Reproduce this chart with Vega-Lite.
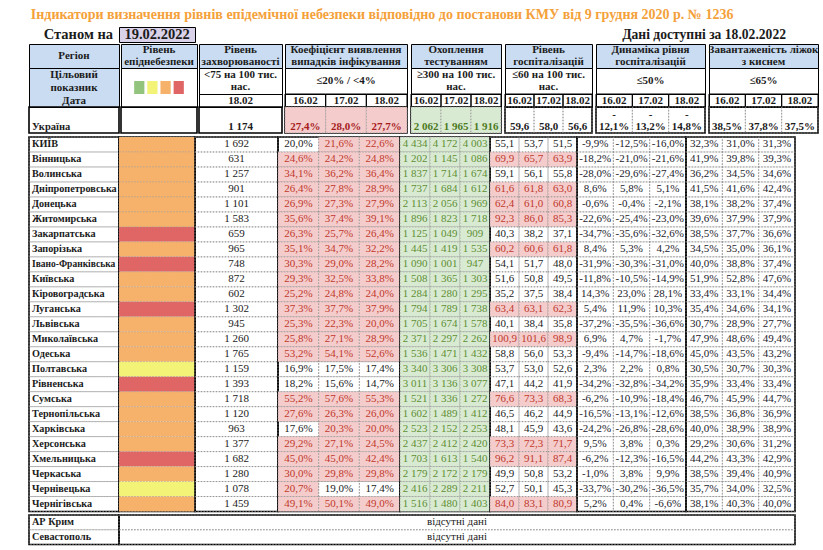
{
"$schema": "https://vega.github.io/schema/vega-lite/v6.json",
"padding": {"left": 27, "top": 8, "right": 10, "bottom": 5},
"background": "white",
"title": {"text": "Індикатори визначення рівнів епідемічної небезпеки відповідно до постанови КМУ від 9 грудня 2020 р. № 1236", "font": "Liberation Serif", "fontSize": 14, "fontWeight": "bold", "color": "#f4a13a", "anchor": "start", "dx": 3, "offset": 4},
"datasets": {
"rows": [
{"r":"Україна","lvl":null,"inc":1174,"k1":0.274,"k2":0.28,"k3":0.277,"t1":2062,"t2":1965,"t3":1916,"h1":59.6,"h2":58.0,"h3":56.6,"d1":-0.121,"d2":-0.132,"d3":-0.148,"b1":0.385,"b2":0.378,"b3":0.375},
{"r":"КИЇВ","lvl":"помаранчевий","inc":1692,"k1":0.2,"k2":0.216,"k3":0.226,"t1":4434,"t2":4172,"t3":4003,"h1":55.1,"h2":53.7,"h3":51.5,"d1":-0.099,"d2":-0.125,"d3":-0.16,"b1":0.323,"b2":0.31,"b3":0.313},
{"r":"Вінницька","lvl":"помаранчевий","inc":631,"k1":0.246,"k2":0.242,"k3":0.248,"t1":1202,"t2":1145,"t3":1086,"h1":69.9,"h2":65.7,"h3":63.9,"d1":-0.182,"d2":-0.21,"d3":-0.216,"b1":0.419,"b2":0.398,"b3":0.393},
{"r":"Волинська","lvl":"помаранчевий","inc":1257,"k1":0.341,"k2":0.362,"k3":0.364,"t1":1837,"t2":1714,"t3":1674,"h1":59.1,"h2":56.1,"h3":55.8,"d1":-0.28,"d2":-0.296,"d3":-0.274,"b1":0.362,"b2":0.345,"b3":0.346},
{"r":"Дніпропетровська","lvl":"помаранчевий","inc":901,"k1":0.264,"k2":0.278,"k3":0.289,"t1":1737,"t2":1684,"t3":1612,"h1":61.6,"h2":61.8,"h3":63.0,"d1":0.086,"d2":0.058,"d3":0.051,"b1":0.415,"b2":0.416,"b3":0.424},
{"r":"Донецька","lvl":"помаранчевий","inc":1101,"k1":0.269,"k2":0.273,"k3":0.279,"t1":2113,"t2":2056,"t3":1969,"h1":62.4,"h2":61.0,"h3":60.8,"d1":-0.006,"d2":-0.004,"d3":-0.021,"b1":0.381,"b2":0.382,"b3":0.374},
{"r":"Житомирська","lvl":"помаранчевий","inc":1583,"k1":0.356,"k2":0.374,"k3":0.391,"t1":1896,"t2":1823,"t3":1718,"h1":92.3,"h2":86.0,"h3":85.3,"d1":-0.226,"d2":-0.254,"d3":-0.23,"b1":0.396,"b2":0.379,"b3":0.379},
{"r":"Закарпатська","lvl":"червоний","inc":659,"k1":0.263,"k2":0.257,"k3":0.264,"t1":1125,"t2":1049,"t3":909,"h1":40.3,"h2":38.2,"h3":37.1,"d1":-0.347,"d2":-0.356,"d3":-0.326,"b1":0.385,"b2":0.377,"b3":0.366},
{"r":"Запорізька","lvl":"помаранчевий","inc":965,"k1":0.351,"k2":0.347,"k3":0.322,"t1":1445,"t2":1419,"t3":1535,"h1":60.2,"h2":60.6,"h3":61.8,"d1":0.084,"d2":0.053,"d3":0.042,"b1":0.345,"b2":0.35,"b3":0.361},
{"r":"Івано-Франківська","lvl":"червоний","inc":748,"k1":0.303,"k2":0.29,"k3":0.282,"t1":1090,"t2":1001,"t3":947,"h1":54.1,"h2":51.7,"h3":48.0,"d1":-0.319,"d2":-0.303,"d3":-0.31,"b1":0.4,"b2":0.388,"b3":0.374},
{"r":"Київська","lvl":"помаранчевий","inc":872,"k1":0.293,"k2":0.325,"k3":0.338,"t1":1508,"t2":1365,"t3":1303,"h1":51.6,"h2":50.8,"h3":49.5,"d1":-0.118,"d2":-0.105,"d3":-0.149,"b1":0.519,"b2":0.528,"b3":0.476},
{"r":"Кіровоградська","lvl":"помаранчевий","inc":602,"k1":0.252,"k2":0.248,"k3":0.24,"t1":1284,"t2":1280,"t3":1295,"h1":35.2,"h2":37.5,"h3":38.4,"d1":0.143,"d2":0.23,"d3":0.281,"b1":0.334,"b2":0.331,"b3":0.344},
{"r":"Луганська","lvl":"червоний","inc":1302,"k1":0.373,"k2":0.377,"k3":0.379,"t1":1794,"t2":1789,"t3":1738,"h1":63.4,"h2":63.1,"h3":62.3,"d1":0.054,"d2":0.119,"d3":0.103,"b1":0.354,"b2":0.346,"b3":0.341},
{"r":"Львівська","lvl":"помаранчевий","inc":945,"k1":0.253,"k2":0.223,"k3":0.2,"t1":1705,"t2":1674,"t3":1578,"h1":40.1,"h2":38.4,"h3":35.8,"d1":-0.372,"d2":-0.355,"d3":-0.366,"b1":0.307,"b2":0.289,"b3":0.277},
{"r":"Миколаївська","lvl":"помаранчевий","inc":1260,"k1":0.258,"k2":0.271,"k3":0.289,"t1":2371,"t2":2297,"t3":2262,"h1":100.9,"h2":101.6,"h3":98.9,"d1":0.069,"d2":0.047,"d3":-0.017,"b1":0.479,"b2":0.486,"b3":0.494},
{"r":"Одеська","lvl":"помаранчевий","inc":1765,"k1":0.532,"k2":0.541,"k3":0.526,"t1":1536,"t2":1471,"t3":1432,"h1":58.8,"h2":56.0,"h3":53.3,"d1":-0.094,"d2":-0.147,"d3":-0.186,"b1":0.45,"b2":0.435,"b3":0.432},
{"r":"Полтавська","lvl":"жовтий","inc":1159,"k1":0.169,"k2":0.175,"k3":0.174,"t1":3340,"t2":3306,"t3":3308,"h1":53.7,"h2":53.0,"h3":52.6,"d1":0.023,"d2":0.022,"d3":0.008,"b1":0.305,"b2":0.307,"b3":0.303},
{"r":"Рівненська","lvl":"червоний","inc":1393,"k1":0.182,"k2":0.156,"k3":0.147,"t1":3011,"t2":3136,"t3":3077,"h1":47.1,"h2":44.2,"h3":41.9,"d1":-0.342,"d2":-0.328,"d3":-0.342,"b1":0.359,"b2":0.334,"b3":0.334},
{"r":"Сумська","lvl":"помаранчевий","inc":1718,"k1":0.552,"k2":0.576,"k3":0.553,"t1":1521,"t2":1336,"t3":1272,"h1":76.6,"h2":73.3,"h3":68.3,"d1":-0.062,"d2":-0.109,"d3":-0.184,"b1":0.467,"b2":0.459,"b3":0.447},
{"r":"Тернопільська","lvl":"помаранчевий","inc":1120,"k1":0.276,"k2":0.263,"k3":0.26,"t1":1602,"t2":1489,"t3":1412,"h1":46.5,"h2":46.2,"h3":44.9,"d1":-0.165,"d2":-0.131,"d3":-0.126,"b1":0.385,"b2":0.368,"b3":0.369},
{"r":"Харківська","lvl":"помаранчевий","inc":963,"k1":0.176,"k2":0.203,"k3":0.2,"t1":2523,"t2":2152,"t3":2253,"h1":48.1,"h2":45.9,"h3":43.6,"d1":-0.242,"d2":-0.268,"d3":-0.286,"b1":0.4,"b2":0.389,"b3":0.389},
{"r":"Херсонська","lvl":"помаранчевий","inc":1377,"k1":0.292,"k2":0.271,"k3":0.245,"t1":2437,"t2":2412,"t3":2420,"h1":73.3,"h2":72.3,"h3":71.7,"d1":0.095,"d2":0.038,"d3":0.003,"b1":0.292,"b2":0.306,"b3":0.312},
{"r":"Хмельницька","lvl":"червоний","inc":1682,"k1":0.45,"k2":0.45,"k3":0.424,"t1":1703,"t2":1613,"t3":1540,"h1":96.2,"h2":91.1,"h3":87.4,"d1":-0.062,"d2":-0.123,"d3":-0.165,"b1":0.442,"b2":0.433,"b3":0.429},
{"r":"Черкаська","lvl":"помаранчевий","inc":1280,"k1":0.3,"k2":0.298,"k3":0.298,"t1":2179,"t2":2172,"t3":2179,"h1":49.9,"h2":50.8,"h3":53.2,"d1":-0.01,"d2":0.038,"d3":0.099,"b1":0.385,"b2":0.394,"b3":0.409},
{"r":"Чернівецька","lvl":"жовтий","inc":1078,"k1":0.207,"k2":0.19,"k3":0.174,"t1":2416,"t2":2289,"t3":2211,"h1":52.7,"h2":50.1,"h3":45.3,"d1":-0.337,"d2":-0.302,"d3":-0.365,"b1":0.357,"b2":0.34,"b3":0.325},
{"r":"Чернігівська","lvl":"помаранчевий","inc":1459,"k1":0.491,"k2":0.501,"k3":0.49,"t1":1516,"t2":1480,"t3":1403,"h1":84.0,"h2":83.1,"h3":80.9,"d1":0.052,"d2":0.004,"d3":-0.066,"b1":0.381,"b2":0.403,"b3":0.4}
],
"dates": [{"d":"16.02"},{"d":"17.02"},{"d":"18.02"}],
"levels": [{"lvl":"зелений"},{"lvl":"жовтий"},{"lvl":"помаранчевий"},{"lvl":"червоний"}],
"missing": [{"r":"АР Крим","note":"відсутні дані"},{"r":"Севастополь","note":"відсутні дані"}]
},
"spacing": 0,
"vconcat": [
{"hconcat": [
 {"width": 90, "height": 15, "view": {"stroke": null}, "data": {"values": [{"t": "Станом на"}]}, "mark": {"type": "text", "align": "right", "dx": -6, "fontWeight": "bold", "fontSize": 14.5}, "encoding": {"x": {"datum": 1, "type": "quantitative", "scale": {"domain": [0, 1]}, "axis": null}, "text": {"field": "t"}}},
 {"width": 76, "height": 15, "view": {"stroke": "#000", "strokeWidth": 1, "fill": "#d9d2e9"}, "data": {"values": [{"t": "19.02.2022"}]}, "mark": {"type": "text", "fontWeight": "bold", "fontSize": 14.5}, "encoding": {"text": {"field": "t"}}},
 {"width": 600, "height": 15, "view": {"stroke": null}, "data": {"values": [{"t": "Дані доступні за  18.02.2022"}]}, "mark": {"type": "text", "align": "right", "dx": -9, "fontWeight": "bold", "fontSize": 13.6}, "encoding": {"x": {"datum": 1, "type": "quantitative", "scale": {"domain": [0, 1]}, "axis": null}, "text": {"field": "t"}}}
], "spacing": 0, "bounds": "flush"},
{"hconcat": [
 {"vconcat": [
  {"width": 90, "height": 24, "view": {"stroke": "#000", "strokeWidth": 1, "fill": "#c9dcf1"}, "data": {"values": [{"t": "Регіон"}]}, "mark": {"type": "text", "fontWeight": "bold"}, "encoding": {"text": {"field": "t"}}},
  {"width": 90, "height": 39, "view": {"stroke": "#000", "strokeWidth": 1, "fill": "#c9dcf1"}, "data": {"values": [{"t": "Цільовий"}, {"t": "показник"}, {"t": "Дата"}]}, "mark": {"type": "text", "fontWeight": "bold"}, "encoding": {"y": {"field": "t", "type": "nominal", "sort": null, "scale": {"type": "band", "paddingInner": 0, "paddingOuter": 0}, "axis": null}, "text": {"field": "t"}}},
  {"width": 90, "height": 26, "data": {"name": "rows"}, "transform": [{"filter": "datum.r == 'Україна'"}], "mark": {"type": "text", "align": "left", "dx": 3, "dy": -1, "baseline": "bottom", "fontWeight": "bold", "fontSize": 10.5}, "encoding": {"x": {"datum": 0, "type": "quantitative", "scale": {"domain": [0, 1]}, "axis": null}, "y": {"datum": 0, "type": "quantitative", "scale": {"domain": [0, 1]}, "axis": null}, "text": {"field": "r"}}}
 ], "spacing": 0, "bounds": "flush"},
 {"vconcat": [
  {"width": 76, "height": 24, "view": {"stroke": "#000", "strokeWidth": 1, "fill": "#c9dcf1"}, "data": {"values": [{"t": "Рівень\nепіднебезпеки"}]}, "mark": {"type": "text", "fontWeight": "bold", "lineBreak": "\n", "lineHeight": 12, "dy": -6}, "encoding": {"text": {"field": "t"}}},
  {"width": 76, "height": 39, "view": {"stroke": "#000", "strokeWidth": 1}, "data": {"name": "levels"}, "mark": {"type": "rect"}, "encoding": {
    "x": {"field": "lvl", "type": "nominal", "sort": null, "scale": {"type": "band", "paddingInner": 0.222, "paddingOuter": 2.33}, "axis": null},
    "y": {"datum": "s", "type": "nominal", "scale": {"type": "band", "paddingInner": 0, "paddingOuter": 1.125}, "axis": null},
    "fill": {"field": "lvl", "type": "nominal", "scale": {"domain": ["зелений", "жовтий", "помаранчевий", "червоний"], "range": ["#93c47d", "#f3f377", "#f6b26b", "#e06666"]}, "legend": null}}},
  {"width": 76, "height": 26, "data": {"name": "rows"}, "transform": [{"filter": "datum.r == 'Україна'"}], "mark": {"type": "rect", "fill": "transparent"}, "encoding": {"x": {"datum": 0, "type": "quantitative", "scale": {"domain": [0, 1]}, "axis": null}, "x2": {"datum": 1}, "y": {"datum": 0, "type": "quantitative", "scale": {"domain": [0, 1]}, "axis": null}, "y2": {"datum": 1}}}
 ], "spacing": 0, "bounds": "flush"},
 {"vconcat": [
  {"width": 83, "height": 24, "view": {"stroke": "#000", "strokeWidth": 1, "fill": "#c9dcf1"}, "data": {"values": [{"t": "Рівень\nзахворюваності"}]}, "mark": {"type": "text", "fontWeight": "bold", "lineBreak": "\n", "lineHeight": 12, "dy": -6}, "encoding": {"text": {"field": "t"}}},
  {"width": 83, "height": 26, "view": {"stroke": "#000", "strokeWidth": 1}, "data": {"values": [{"t": "<75 на 100 тис.\nнас."}]}, "mark": {"type": "text", "fontWeight": "bold", "lineBreak": "\n", "lineHeight": 12, "dy": -6}, "encoding": {"text": {"field": "t"}}},
  {"width": 83, "height": 13, "view": {"stroke": "#000", "strokeWidth": 1}, "data": {"values": [{"t": "18.02"}]}, "mark": {"type": "text", "fontWeight": "bold"}, "encoding": {"text": {"field": "t"}}},
  {"width": 83, "height": 26, "data": {"name": "rows"}, "transform": [{"filter": "datum.r == 'Україна'"}], "mark": {"type": "text", "dy": -1, "baseline": "bottom", "fontWeight": "bold"}, "encoding": {"y": {"datum": 0, "type": "quantitative", "scale": {"domain": [0, 1]}, "axis": null}, "text": {"field": "inc", "type": "quantitative", "format": ",d"}}}
 ], "spacing": 0, "bounds": "flush"},
 {"vconcat": [
  {"width": 122, "height": 24, "view": {"stroke": "#000", "strokeWidth": 1, "fill": "#c9dcf1"}, "data": {"values": [{"t": "Коефіцієнт виявлення\nвипадків інфікування"}]}, "mark": {"type": "text", "fontWeight": "bold", "lineBreak": "\n", "lineHeight": 12, "dy": -6}, "encoding": {"text": {"field": "t"}}},
  {"width": 122, "height": 26, "view": {"stroke": "#000", "strokeWidth": 1}, "data": {"values": [{"t": "≤20% / <4%"}]}, "mark": {"type": "text", "fontWeight": "bold"}, "encoding": {"text": {"field": "t"}}},
  {"width": 122, "height": 13, "view": {"stroke": "#000", "strokeWidth": 1}, "data": {"name": "dates"}, "encoding": {"x": {"field": "d", "type": "nominal", "sort": null, "scale": {"type": "band", "paddingInner": 0, "paddingOuter": 0}, "axis": null}}, "layer": [
    {"mark": {"type": "rect", "fill": "transparent", "stroke": "#000", "strokeWidth": 1}, "encoding": {"y": {"datum": 0, "type": "quantitative", "scale": {"domain": [0, 1]}, "axis": null}, "y2": {"datum": 1}}},
    {"mark": {"type": "text", "fontWeight": "bold"}, "encoding": {"text": {"field": "d"}}}]},
  {"width": 122, "height": 26, "data": {"name": "rows"}, "transform": [{"filter": "datum.r == 'Україна'"}, {"fold": ["k1", "k2", "k3"], "as": ["day", "v"]}], "encoding": {"x": {"field": "day", "type": "nominal", "sort": null, "scale": {"type": "band", "paddingInner": 0, "paddingOuter": 0}, "axis": null}}, "layer": [
    {"mark": {"type": "rect", "fill": "#f4cccc", "stroke": "#8a8a8a", "strokeWidth": 0.7, "strokeDash": [1.5, 1.5]}, "encoding": {"y": {"datum": 0, "type": "quantitative", "scale": {"domain": [0, 1]}, "axis": null}, "y2": {"datum": 1}}},
    {"mark": {"type": "text", "dy": -1, "baseline": "bottom", "fontWeight": "bold", "color": "#a61c1c"}, "encoding": {"y": {"datum": 0, "type": "quantitative", "scale": {"domain": [0, 1]}, "axis": null}, "text": {"field": "v", "type": "quantitative", "format": ".1%"}}}]}
 ], "spacing": 0, "bounds": "flush"},
 {"vconcat": [
  {"width": 90, "height": 24, "view": {"stroke": "#000", "strokeWidth": 1, "fill": "#c9dcf1"}, "data": {"values": [{"t": "Охоплення\nтестуванням"}]}, "mark": {"type": "text", "fontWeight": "bold", "lineBreak": "\n", "lineHeight": 12, "dy": -6}, "encoding": {"text": {"field": "t"}}},
  {"width": 90, "height": 26, "view": {"stroke": "#000", "strokeWidth": 1}, "data": {"values": [{"t": "≥300 на 100 тис.\nнас."}]}, "mark": {"type": "text", "fontWeight": "bold", "lineBreak": "\n", "lineHeight": 12, "dy": -6}, "encoding": {"text": {"field": "t"}}},
  {"width": 90, "height": 13, "view": {"stroke": "#000", "strokeWidth": 1}, "data": {"name": "dates"}, "encoding": {"x": {"field": "d", "type": "nominal", "sort": null, "scale": {"type": "band", "paddingInner": 0, "paddingOuter": 0}, "axis": null}}, "layer": [
    {"mark": {"type": "rect", "fill": "transparent", "stroke": "#000", "strokeWidth": 1}, "encoding": {"y": {"datum": 0, "type": "quantitative", "scale": {"domain": [0, 1]}, "axis": null}, "y2": {"datum": 1}}},
    {"mark": {"type": "text", "fontWeight": "bold"}, "encoding": {"text": {"field": "d"}}}]},
  {"width": 90, "height": 26, "data": {"name": "rows"}, "transform": [{"filter": "datum.r == 'Україна'"}, {"fold": ["t1", "t2", "t3"], "as": ["day", "v"]}], "encoding": {"x": {"field": "day", "type": "nominal", "sort": null, "scale": {"type": "band", "paddingInner": 0, "paddingOuter": 0}, "axis": null}}, "layer": [
    {"mark": {"type": "rect", "fill": "#d9ead3", "stroke": "#8a8a8a", "strokeWidth": 0.7, "strokeDash": [1.5, 1.5]}, "encoding": {"y": {"datum": 0, "type": "quantitative", "scale": {"domain": [0, 1]}, "axis": null}, "y2": {"datum": 1}}},
    {"mark": {"type": "text", "dy": -1, "baseline": "bottom", "fontWeight": "bold", "color": "#4c7a22"}, "encoding": {"y": {"datum": 0, "type": "quantitative", "scale": {"domain": [0, 1]}, "axis": null}, "text": {"field": "v", "type": "quantitative", "format": ",d"}}}]}
 ], "spacing": 0, "bounds": "flush"},
 {"vconcat": [
  {"width": 87, "height": 24, "view": {"stroke": "#000", "strokeWidth": 1, "fill": "#c9dcf1"}, "data": {"values": [{"t": "Рівень\nгоспіталізацій"}]}, "mark": {"type": "text", "fontWeight": "bold", "lineBreak": "\n", "lineHeight": 12, "dy": -6}, "encoding": {"text": {"field": "t"}}},
  {"width": 87, "height": 26, "view": {"stroke": "#000", "strokeWidth": 1}, "data": {"values": [{"t": "≤60 на 100 тис.\nнас."}]}, "mark": {"type": "text", "fontWeight": "bold", "lineBreak": "\n", "lineHeight": 12, "dy": -6}, "encoding": {"text": {"field": "t"}}},
  {"width": 87, "height": 13, "view": {"stroke": "#000", "strokeWidth": 1}, "data": {"name": "dates"}, "encoding": {"x": {"field": "d", "type": "nominal", "sort": null, "scale": {"type": "band", "paddingInner": 0, "paddingOuter": 0}, "axis": null}}, "layer": [
    {"mark": {"type": "rect", "fill": "transparent", "stroke": "#000", "strokeWidth": 1}, "encoding": {"y": {"datum": 0, "type": "quantitative", "scale": {"domain": [0, 1]}, "axis": null}, "y2": {"datum": 1}}},
    {"mark": {"type": "text", "fontWeight": "bold"}, "encoding": {"text": {"field": "d"}}}]},
  {"width": 87, "height": 26, "data": {"name": "rows"}, "transform": [{"filter": "datum.r == 'Україна'"}, {"fold": ["h1", "h2", "h3"], "as": ["day", "v"]}], "encoding": {"x": {"field": "day", "type": "nominal", "sort": null, "scale": {"type": "band", "paddingInner": 0, "paddingOuter": 0}, "axis": null}}, "layer": [
    {"mark": {"type": "rect", "stroke": "#8a8a8a", "strokeWidth": 0.7, "strokeDash": [1.5, 1.5]}, "encoding": {"y": {"datum": 0, "type": "quantitative", "scale": {"domain": [0, 1]}, "axis": null}, "y2": {"datum": 1}, "fill": {"condition": {"test": "datum.v > 60", "value": "#f4cccc"}, "value": "transparent"}}},
    {"mark": {"type": "text", "dy": -1, "baseline": "bottom", "fontWeight": "bold"}, "encoding": {"y": {"datum": 0, "type": "quantitative", "scale": {"domain": [0, 1]}, "axis": null}, "text": {"field": "v", "type": "quantitative", "format": ".1f"}}}]}
 ], "spacing": 0, "bounds": "flush"},
 {"vconcat": [
  {"width": 109, "height": 24, "view": {"stroke": "#000", "strokeWidth": 1, "fill": "#c9dcf1"}, "data": {"values": [{"t": "Динаміка рівня\nгоспіталізацій"}]}, "mark": {"type": "text", "fontWeight": "bold", "lineBreak": "\n", "lineHeight": 12, "dy": -6}, "encoding": {"text": {"field": "t"}}},
  {"width": 109, "height": 26, "view": {"stroke": "#000", "strokeWidth": 1}, "data": {"values": [{"t": "≤50%"}]}, "mark": {"type": "text", "fontWeight": "bold"}, "encoding": {"text": {"field": "t"}}},
  {"width": 109, "height": 13, "view": {"stroke": "#000", "strokeWidth": 1}, "data": {"name": "dates"}, "encoding": {"x": {"field": "d", "type": "nominal", "sort": null, "scale": {"type": "band", "paddingInner": 0, "paddingOuter": 0}, "axis": null}}, "layer": [
    {"mark": {"type": "rect", "fill": "transparent", "stroke": "#000", "strokeWidth": 1}, "encoding": {"y": {"datum": 0, "type": "quantitative", "scale": {"domain": [0, 1]}, "axis": null}, "y2": {"datum": 1}}},
    {"mark": {"type": "text", "fontWeight": "bold"}, "encoding": {"text": {"field": "d"}}}]},
  {"width": 109, "height": 26, "data": {"name": "rows"}, "transform": [{"filter": "datum.r == 'Україна'"}, {"fold": ["d1", "d2", "d3"], "as": ["day", "v"]}], "encoding": {"x": {"field": "day", "type": "nominal", "sort": null, "scale": {"type": "band", "paddingInner": 0, "paddingOuter": 0}, "axis": null}}, "layer": [
    {"mark": {"type": "rect", "fill": "transparent", "stroke": "#8a8a8a", "strokeWidth": 0.7, "strokeDash": [1.5, 1.5]}, "encoding": {"y": {"datum": 0, "type": "quantitative", "scale": {"domain": [0, 1]}, "axis": null}, "y2": {"datum": 1}}},
    {"mark": {"type": "text", "dy": -13, "baseline": "bottom", "fontWeight": "bold", "lineHeight": 12, "lineBreak": {"expr": "regexp('(?<=-)')"}}, "encoding": {"y": {"datum": 0, "type": "quantitative", "scale": {"domain": [0, 1]}, "axis": null}, "text": {"field": "v", "type": "quantitative", "format": ".1%"}}}]}
 ], "spacing": 0, "bounds": "flush"},
 {"vconcat": [
  {"width": 109, "height": 24, "view": {"stroke": "#000", "strokeWidth": 1, "fill": "#c9dcf1"}, "data": {"values": [{"t": "Завантаженість ліжок\nз киснем"}]}, "mark": {"type": "text", "fontWeight": "bold", "lineBreak": "\n", "lineHeight": 12, "dy": -6}, "encoding": {"text": {"field": "t"}}},
  {"width": 109, "height": 26, "view": {"stroke": "#000", "strokeWidth": 1}, "data": {"values": [{"t": "≤65%"}]}, "mark": {"type": "text", "fontWeight": "bold"}, "encoding": {"text": {"field": "t"}}},
  {"width": 109, "height": 13, "view": {"stroke": "#000", "strokeWidth": 1}, "data": {"name": "dates"}, "encoding": {"x": {"field": "d", "type": "nominal", "sort": null, "scale": {"type": "band", "paddingInner": 0, "paddingOuter": 0}, "axis": null}}, "layer": [
    {"mark": {"type": "rect", "fill": "transparent", "stroke": "#000", "strokeWidth": 1}, "encoding": {"y": {"datum": 0, "type": "quantitative", "scale": {"domain": [0, 1]}, "axis": null}, "y2": {"datum": 1}}},
    {"mark": {"type": "text", "fontWeight": "bold"}, "encoding": {"text": {"field": "d"}}}]},
  {"width": 109, "height": 26, "data": {"name": "rows"}, "transform": [{"filter": "datum.r == 'Україна'"}, {"fold": ["b1", "b2", "b3"], "as": ["day", "v"]}], "encoding": {"x": {"field": "day", "type": "nominal", "sort": null, "scale": {"type": "band", "paddingInner": 0, "paddingOuter": 0}, "axis": null}}, "layer": [
    {"mark": {"type": "rect", "fill": "transparent", "stroke": "#8a8a8a", "strokeWidth": 0.7, "strokeDash": [1.5, 1.5]}, "encoding": {"y": {"datum": 0, "type": "quantitative", "scale": {"domain": [0, 1]}, "axis": null}, "y2": {"datum": 1}}},
    {"mark": {"type": "text", "dy": -1, "baseline": "bottom", "fontWeight": "bold"}, "encoding": {"y": {"datum": 0, "type": "quantitative", "scale": {"domain": [0, 1]}, "axis": null}, "text": {"field": "v", "type": "quantitative", "format": ".1%"}}}]}
 ], "spacing": 0, "bounds": "flush"}
], "spacing": 0},
{"hconcat": [
 {"width": 90, "height": 374.5, "data": {"name": "rows"}, "transform": [{"filter": "datum.r != 'Україна'"}], "encoding": {"y": {"field": "r", "type": "nominal", "sort": null, "scale": {"type": "band", "paddingInner": 0, "paddingOuter": 0}, "axis": null}}, "layer": [
   {"mark": {"type": "rect", "fill": "transparent", "stroke": "#8a8a8a", "strokeWidth": 0.7, "strokeDash": [1.5, 1.5]}},
   {"mark": {"type": "text", "align": "left", "dx": 3, "fontWeight": "bold"}, "encoding": {"x": {"datum": 0, "type": "quantitative", "scale": {"domain": [0, 1]}, "axis": null}, "text": {"field": "r"}, "size": {"condition": {"test": "length(datum.r) > 16", "value": 9.5}, "value": 10.2}}}]},
 {"width": 76, "height": 374.5, "data": {"name": "rows"}, "transform": [{"filter": "datum.r != 'Україна'"}], "mark": {"type": "rect", "stroke": "#a0a0a0", "strokeWidth": 0.5, "strokeDash": [1.5, 1.5]}, "encoding": {"y": {"field": "r", "type": "nominal", "sort": null, "scale": {"type": "band", "paddingInner": 0, "paddingOuter": 0}, "axis": null}, "fill": {"field": "lvl", "type": "nominal", "scale": {"domain": ["зелений", "жовтий", "помаранчевий", "червоний"], "range": ["#93c47d", "#f3f377", "#f6b26b", "#e06666"]}, "legend": null}}},
 {"width": 83, "height": 374.5, "data": {"name": "rows"}, "transform": [{"filter": "datum.r != 'Україна'"}], "encoding": {"y": {"field": "r", "type": "nominal", "sort": null, "scale": {"type": "band", "paddingInner": 0, "paddingOuter": 0}, "axis": null}}, "layer": [
   {"mark": {"type": "rect", "fill": "transparent", "stroke": "#8a8a8a", "strokeWidth": 0.7, "strokeDash": [1.5, 1.5]}},
   {"mark": {"type": "text"}, "encoding": {"text": {"field": "inc", "type": "quantitative", "format": ",d"}}}]},
 {"width": 122, "height": 374.5, "data": {"name": "rows"}, "transform": [{"filter": "datum.r != 'Україна'"}, {"fold": ["k1", "k2", "k3"], "as": ["day", "v"]}], "encoding": {"x": {"field": "day", "type": "nominal", "sort": null, "scale": {"type": "band", "paddingInner": 0, "paddingOuter": 0}, "axis": null}, "y": {"field": "r", "type": "nominal", "sort": null, "scale": {"type": "band", "paddingInner": 0, "paddingOuter": 0}, "axis": null}}, "layer": [
   {"mark": {"type": "rect", "stroke": "#8a8a8a", "strokeWidth": 0.7, "strokeDash": [1.5, 1.5]}, "encoding": {"fill": {"condition": {"test": "datum.v > 0.2 || (datum.v >= 0.2 && datum.r != 'КИЇВ')", "value": "#f4cccc"}, "value": "transparent"}}},
   {"mark": {"type": "text"}, "encoding": {"text": {"field": "v", "type": "quantitative", "format": ".1%"}, "color": {"condition": {"test": "datum.v > 0.2 || (datum.v >= 0.2 && datum.r != 'КИЇВ')", "value": "#c0392b"}, "value": "#1b1b1b"}}}]},
 {"width": 90, "height": 374.5, "data": {"name": "rows"}, "transform": [{"filter": "datum.r != 'Україна'"}, {"fold": ["t1", "t2", "t3"], "as": ["day", "v"]}], "encoding": {"x": {"field": "day", "type": "nominal", "sort": null, "scale": {"type": "band", "paddingInner": 0, "paddingOuter": 0}, "axis": null}, "y": {"field": "r", "type": "nominal", "sort": null, "scale": {"type": "band", "paddingInner": 0, "paddingOuter": 0}, "axis": null}}, "layer": [
   {"mark": {"type": "rect", "fill": "#d9ead3", "stroke": "#8a8a8a", "strokeWidth": 0.7, "strokeDash": [1.5, 1.5]}},
   {"mark": {"type": "text", "color": "#5e8f33"}, "encoding": {"text": {"field": "v", "type": "quantitative", "format": ",d"}}}]},
 {"width": 87, "height": 374.5, "data": {"name": "rows"}, "transform": [{"filter": "datum.r != 'Україна'"}, {"fold": ["h1", "h2", "h3"], "as": ["day", "v"]}], "encoding": {"x": {"field": "day", "type": "nominal", "sort": null, "scale": {"type": "band", "paddingInner": 0, "paddingOuter": 0}, "axis": null}, "y": {"field": "r", "type": "nominal", "sort": null, "scale": {"type": "band", "paddingInner": 0, "paddingOuter": 0}, "axis": null}}, "layer": [
   {"mark": {"type": "rect", "stroke": "#8a8a8a", "strokeWidth": 0.7, "strokeDash": [1.5, 1.5]}, "encoding": {"fill": {"condition": {"test": "datum.v > 60", "value": "#f4cccc"}, "value": "transparent"}}},
   {"mark": {"type": "text"}, "encoding": {"text": {"field": "v", "type": "quantitative", "format": ".1f"}, "color": {"condition": {"test": "datum.v > 60", "value": "#c0392b"}, "value": "#1b1b1b"}}}]},
 {"width": 109, "height": 374.5, "data": {"name": "rows"}, "transform": [{"filter": "datum.r != 'Україна'"}, {"fold": ["d1", "d2", "d3"], "as": ["day", "v"]}], "encoding": {"x": {"field": "day", "type": "nominal", "sort": null, "scale": {"type": "band", "paddingInner": 0, "paddingOuter": 0}, "axis": null}, "y": {"field": "r", "type": "nominal", "sort": null, "scale": {"type": "band", "paddingInner": 0, "paddingOuter": 0}, "axis": null}}, "layer": [
   {"mark": {"type": "rect", "fill": "transparent", "stroke": "#8a8a8a", "strokeWidth": 0.7, "strokeDash": [1.5, 1.5]}},
   {"mark": {"type": "text", "color": "#1b1b2b"}, "encoding": {"text": {"field": "v", "type": "quantitative", "format": ".1%"}}}]},
 {"width": 109, "height": 374.5, "data": {"name": "rows"}, "transform": [{"filter": "datum.r != 'Україна'"}, {"fold": ["b1", "b2", "b3"], "as": ["day", "v"]}], "encoding": {"x": {"field": "day", "type": "nominal", "sort": null, "scale": {"type": "band", "paddingInner": 0, "paddingOuter": 0}, "axis": null}, "y": {"field": "r", "type": "nominal", "sort": null, "scale": {"type": "band", "paddingInner": 0, "paddingOuter": 0}, "axis": null}}, "layer": [
   {"mark": {"type": "rect", "fill": "transparent", "stroke": "#8a8a8a", "strokeWidth": 0.7, "strokeDash": [1.5, 1.5]}},
   {"mark": {"type": "text", "color": "#1b1b2b"}, "encoding": {"text": {"field": "v", "type": "quantitative", "format": ".1%"}}}]}
], "spacing": 0, "bounds": "flush"},
{"hconcat": [
 {"width": 90, "height": 29.5, "data": {"name": "missing"}, "encoding": {"y": {"field": "r", "type": "nominal", "sort": null, "scale": {"type": "band", "paddingInner": 0, "paddingOuter": 0}, "axis": null}}, "layer": [
   {"mark": {"type": "rect", "fill": "transparent", "stroke": "#8a8a8a", "strokeWidth": 0.7, "strokeDash": [1.5, 1.5]}},
   {"mark": {"type": "text", "align": "left", "dx": 3, "fontWeight": "bold", "fontSize": 10.2}, "encoding": {"x": {"datum": 0, "type": "quantitative", "scale": {"domain": [0, 1]}, "axis": null}, "text": {"field": "r"}}}]},
 {"width": 676, "height": 29.5, "data": {"name": "missing"}, "encoding": {"y": {"field": "r", "type": "nominal", "sort": null, "scale": {"type": "band", "paddingInner": 0, "paddingOuter": 0}, "axis": null}}, "layer": [
   {"mark": {"type": "rect", "fill": "transparent", "stroke": "#8a8a8a", "strokeWidth": 0.7, "strokeDash": [1.5, 1.5]}},
   {"mark": {"type": "text"}, "encoding": {"text": {"field": "note"}}}]}
], "spacing": 0, "bounds": "flush"}
],
"config": {
 "font": "Liberation Serif",
 "view": {"stroke": "#000", "strokeWidth": 1.6},
 "concat": {"spacing": 0},
 "text": {"font": "Liberation Serif", "fontSize": 11, "color": "#1b1b1b"},
 "locale": {"number": {"decimal": ",", "thousands": " ", "grouping": [3], "currency": ["", ""], "minus": "-"}}
}
}
